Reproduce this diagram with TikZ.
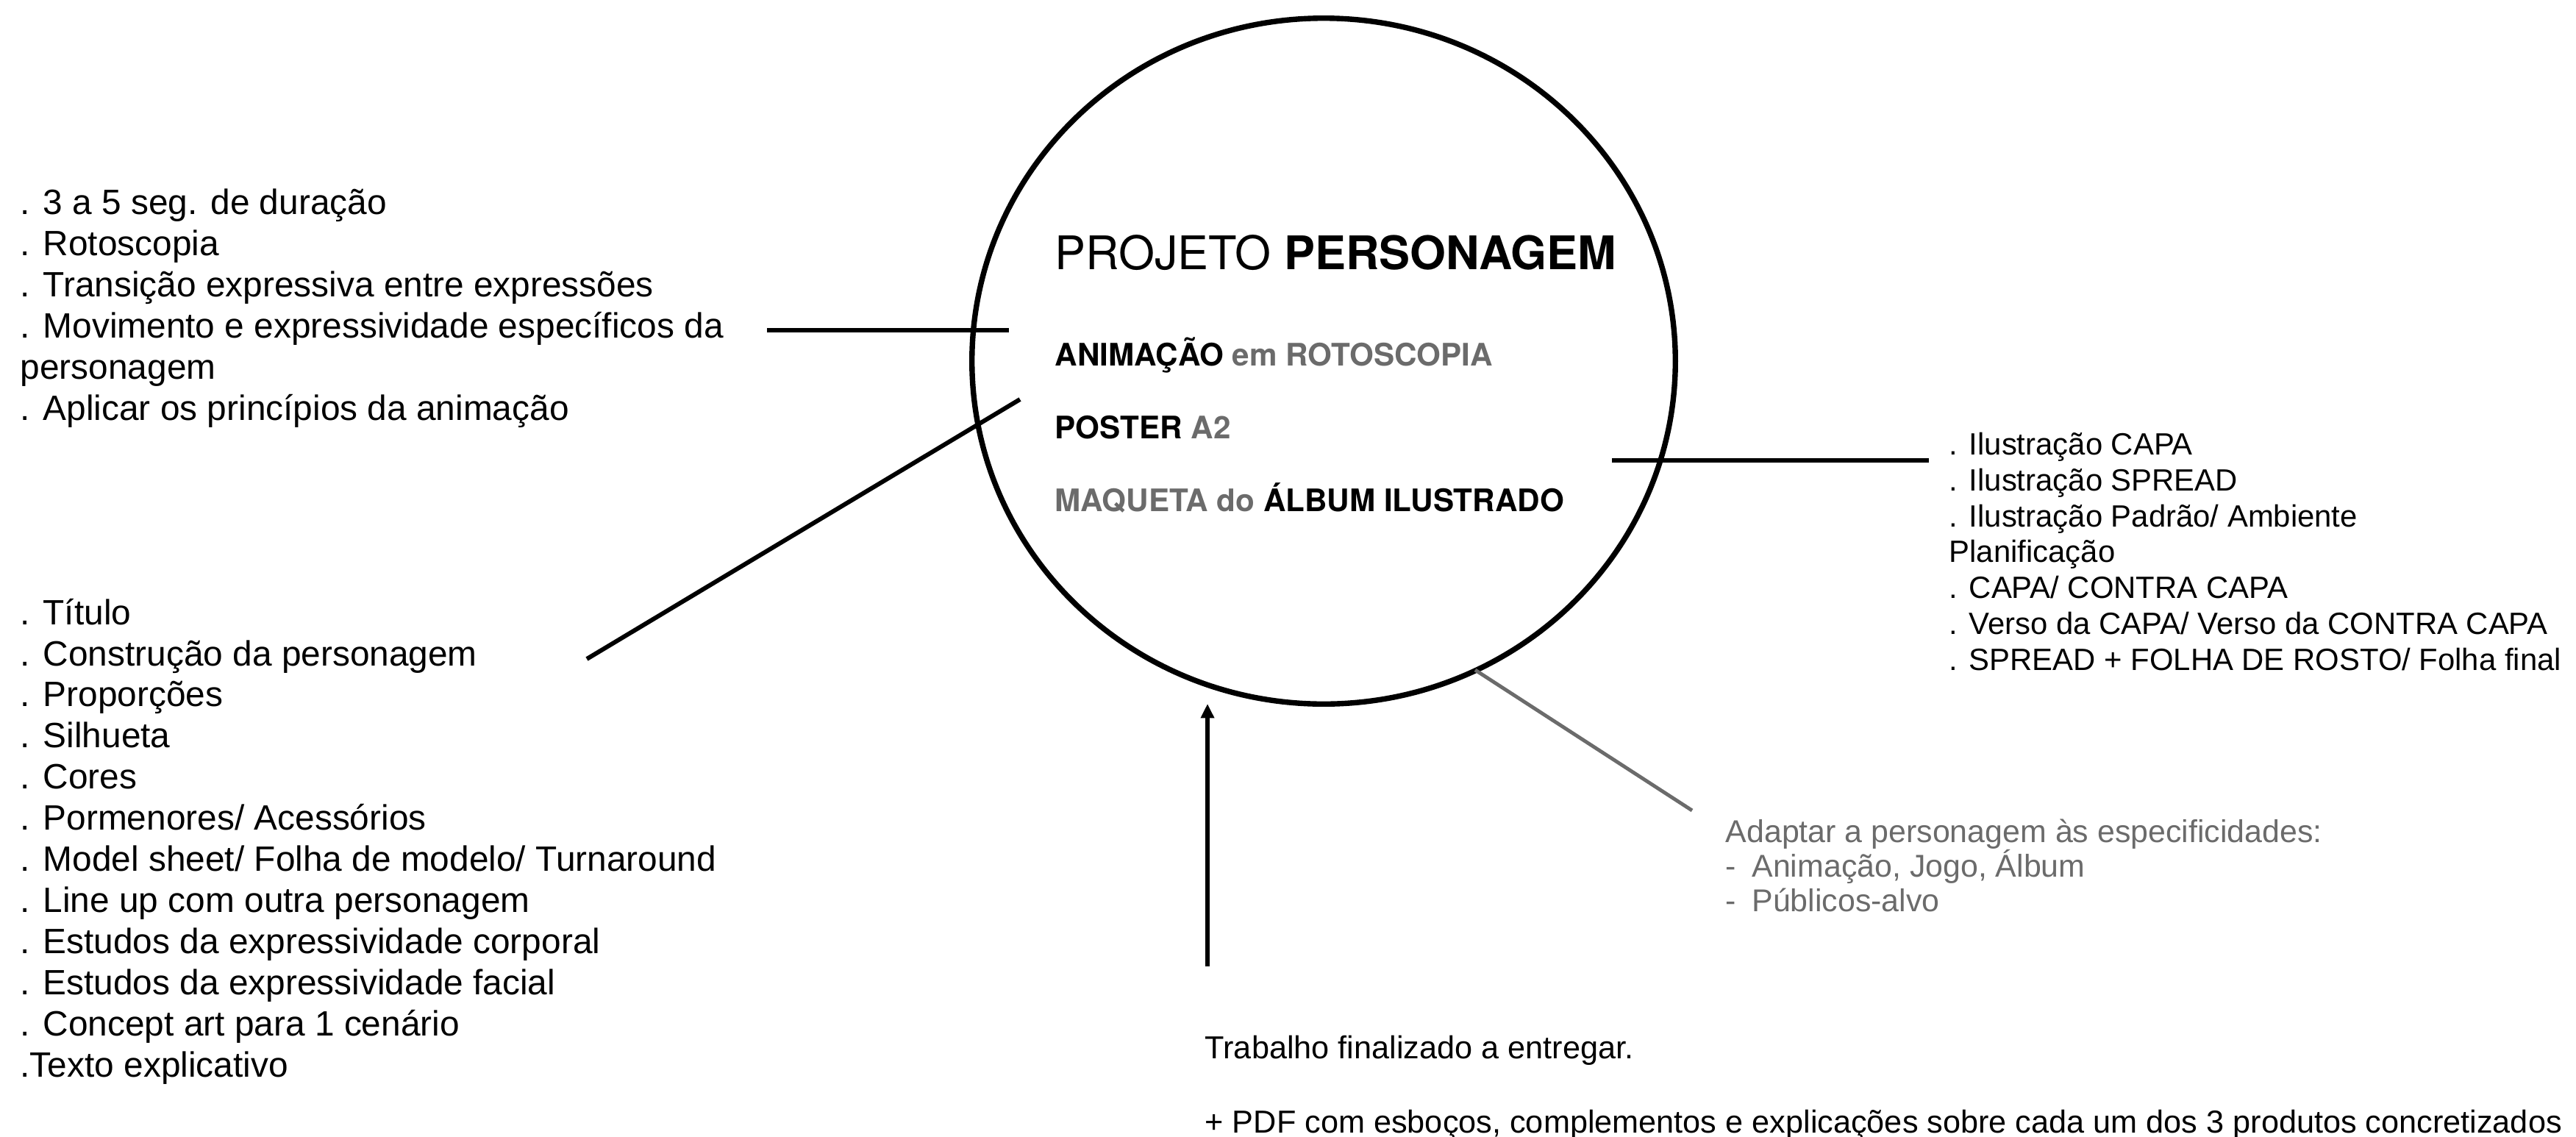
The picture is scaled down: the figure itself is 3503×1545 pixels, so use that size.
\documentclass[tikz,border=0pt]{standalone}
\usepackage{fontspec}
\setmainfont{Liberation Sans}
\newfontfamily\helv{TeX Gyre Heros}
\usepackage{tikz}
\usetikzlibrary{arrows.meta, shapes.geometric}
\definecolor{softgrey}{HTML}{6B6B6B}

\begin{document}
\begin{tikzpicture}[x=0.01cm, y=-0.01cm,
    list/.style={anchor=west, align=left, inner sep=0pt, font=\fontsize{13.6}{15.9}\selectfont},
    smalllist/.style={anchor=west, align=left, inner sep=0pt, font=\fontsize{11.9}{13.9}\selectfont},
    product/.style={anchor=base west, inner sep=0pt, font=\helv\fontsize{12}{14}\selectfont\bfseries},
    link/.style={line width=1.7pt}]
            \useasboundingbox (0,0) rectangle (3503,1545);
            \node[draw, ellipse, line width=2.1pt, minimum width=9.56cm, minimum height=9.32cm, inner sep=0pt] (circ) at (1800,491) {};
            \node[anchor=base west, inner sep=0pt, font=\helv\fontsize{17.9}{20}\selectfont] (title) at (1434,366) {PROJETO \textbf{PERSONAGEM}};
            \node[product] (prodanim) at (1434,497) {ANIMAÇÃO \textcolor{softgrey}{em ROTOSCOPIA}};
            \node[product] (prodposter) at (1434,596) {POSTER \textcolor{softgrey}{A2}};
            \node[product] (prodalbum) at (1434,695) {\textcolor{softgrey}{MAQUETA do} ÁLBUM ILUSTRADO};
            \node[list] (anim) at (27,419) {. 3 a 5 seg. de duração\\. Rotoscopia\\. Transição expressiva entre expressões\\. Movimento e expressividade específicos da\\personagem\\. Aplicar os princípios da animação};
            \node[list] (poster) at (27,1144) {. Título\\. Construção da personagem\\. Proporções\\. Silhueta\\. Cores\\. Pormenores/ Acessórios\\. Model sheet/ Folha de modelo/ Turnaround\\. Line up com outra personagem\\. Estudos da expressividade corporal\\. Estudos da expressividade facial\\. Concept art para 1 cenário\\.Texto explicativo};
            \node[smalllist] (album) at (2650,750) {. Ilustração CAPA\\. Ilustração SPREAD\\. Ilustração Padrão/ Ambiente\\Planificação\\. CAPA/ CONTRA CAPA\\. Verso da CAPA/ Verso da CONTRA CAPA\\. SPREAD + FOLHA DE ROSTO/ Folha final};
            \node[smalllist, text=softgrey, font=\fontsize{12.2}{13.4}\selectfont] (adapt) at (2346,1177) {Adaptar a personagem às especificidades:\\-\hspace{0.5em}Animação, Jogo, Álbum\\-\hspace{0.5em}Públicos-alvo};
            \node[smalllist, font=\fontsize{12.3}{14}\selectfont] (deliver) at (1638,1479) {Trabalho finalizado a entregar.\\[14.7pt]+ PDF com esboços, complementos e explicações sobre cada um dos 3 produtos concretizados};
            % connectors
            \coordinate (animA) at (1043,449);
            \coordinate (animB) at (1372,449);
            \coordinate (posterA) at (798,896);
            \coordinate (posterB) at (1387,543);
            \coordinate (albumA) at (2192,626);
            \coordinate (albumB) at (2623,626);
            \coordinate (adaptA) at (2006,911);
            \coordinate (adaptB) at (2301,1102);
            \coordinate (deliverA) at (1642,1314);
            \coordinate (deliverB) at (1642,957);
            \draw[link] (animA) -- (animB);
            \draw[link] (posterA) -- (posterB);
            \draw[link] (albumA) -- (albumB);
            \draw[link, softgrey, line width=1.4pt] (adaptA) -- (adaptB);
            \draw[link, line width=1.5pt, -{Triangle[length=5.5pt, width=5pt]}] (deliverA) -- (deliverB);
\end{tikzpicture}
\end{document}
